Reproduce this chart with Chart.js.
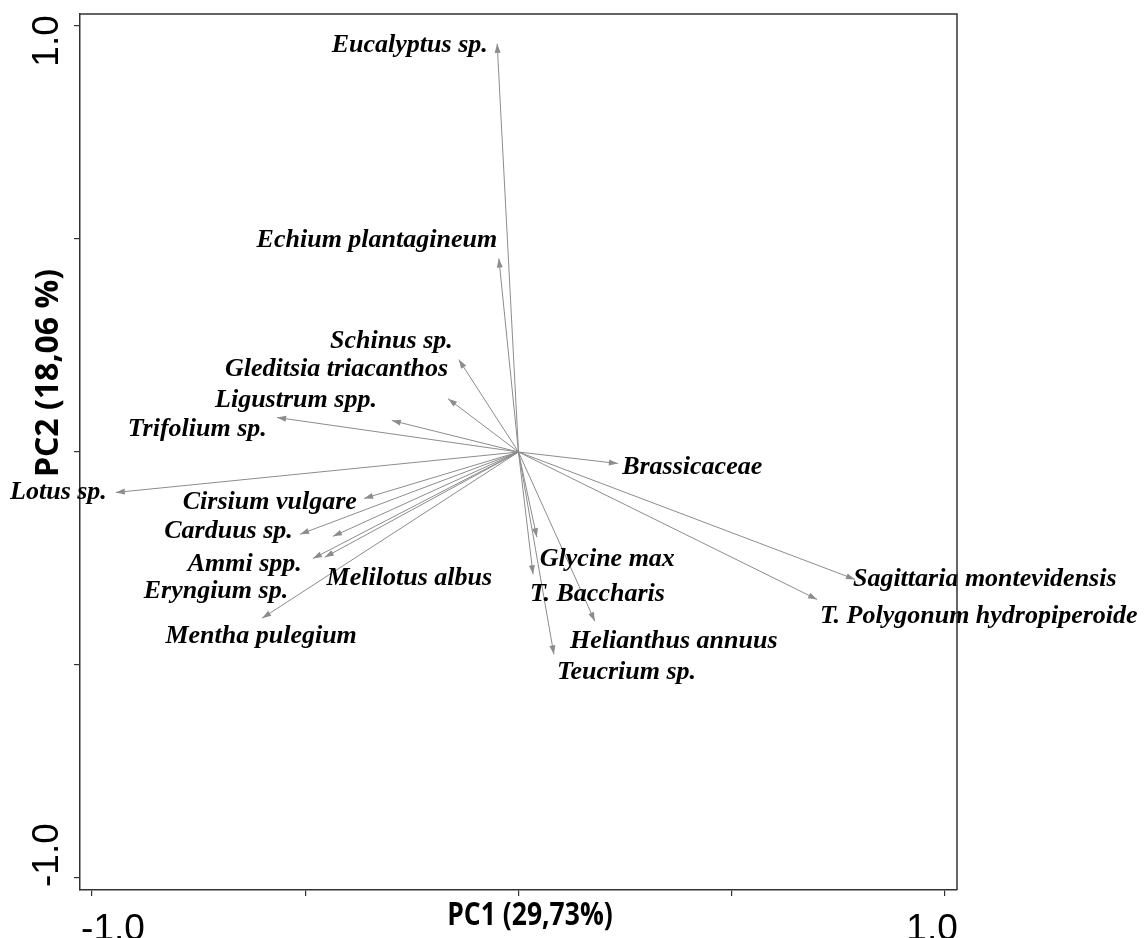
<!DOCTYPE html>
<html>
<head>
<meta charset="utf-8">
<script src="https://cdn.jsdelivr.net/npm/chart.js@4.4.1/dist/chart.umd.min.js"></script>
<style>
html, body { margin: 0; padding: 0; background: #fff; }
#wrap { width: 1146px; height: 938px; }
</style>
</head>
<body>
<div id="wrap"><canvas id="pca"></canvas></div>
<script>
// species loadings on PC1 / PC2
let species = ['Eucalyptus sp.', 'Echium plantagineum', 'Schinus sp.', 'Gleditsia triacanthos',
    'Ligustrum spp.', 'Trifolium sp.', 'Lotus sp.', 'Cirsium vulgare', 'Carduus sp.',
    'Melilotus albus', 'Ammi spp.', 'Eryngium sp.', 'Mentha pulegium', 'Brassicaceae',
    'Glycine max', 'T. Baccharis', 'Helianthus annuus', 'Teucrium sp.',
    'Sagittaria montevidensis', 'T. Polygonum hydropiperoide'];
let pc1 = [-0.050, -0.046, -0.140, -0.165, -0.297, -0.566, -0.944, -0.362, -0.512,
    -0.435, -0.482, -0.454, -0.601, 0.233, 0.043, 0.034, 0.179, 0.083, 0.789, 0.700];
let pc2 = [0.958, 0.454, 0.217, 0.125, 0.074, 0.081, -0.095, -0.109, -0.193,
    -0.198, -0.250, -0.247, -0.390, -0.027, -0.200, -0.287, -0.397, -0.475, -0.299, -0.346];

// where each name sits, in axis units
let labelX = [-0.072, -0.050, -0.154, -0.165, -0.332, -0.590, -0.965, -0.379, -0.529,
    -0.062, -0.508, -0.540, -0.379, 0.243, 0.050, 0.027, 0.121, 0.090, 0.784, 0.707];
let labelY = [0.955, 0.496, 0.261, 0.193, 0.121, 0.053, -0.095, -0.118, -0.186,
    -0.297, -0.264, -0.327, -0.433, -0.036, -0.252, -0.334, -0.444, -0.517, -0.299, -0.386];

let tickValues = [-1, -0.5, 0, 0.5, 1];
let tickLabels = {'-1': '-1.0', '1': '1.0'};
let xTitle = 'PC1 (29,73%)';
let yTitle = 'PC2 (18,06 %)';

const GREY = '#8c8c8c';
const LIM = 1.028;

let datasets = species.map((name, i) => ({
    label: name,
    data: [{x: 0, y: 0}, {x: pc1[i], y: pc2[i]}],
    showLine: true,
    borderColor: GREY,
    borderWidth: 1,
    pointRadius: 0,
    fill: false
}));

const pcaDeco = {
    id: 'pcaDeco',
    afterDatasetsDraw(chart) {
        const ctx = chart.ctx;
        const a = chart.chartArea;
        const xs = chart.scales.x, ys = chart.scales.y;
        ctx.save();

        // arrow heads
        ctx.fillStyle = GREY;
        chart.data.datasets.forEach((ds, i) => {
            const pts = chart.getDatasetMeta(i).data;
            const x0 = pts[0].x, y0 = pts[0].y, x1 = pts[1].x, y1 = pts[1].y;
            const ang = Math.atan2(y1 - y0, x1 - x0);
            const len = 9, w = 3;
            ctx.beginPath();
            ctx.moveTo(x1, y1);
            ctx.lineTo(x1 - len * Math.cos(ang) + w * Math.sin(ang), y1 - len * Math.sin(ang) - w * Math.cos(ang));
            ctx.lineTo(x1 - len * Math.cos(ang) - w * Math.sin(ang), y1 - len * Math.sin(ang) + w * Math.cos(ang));
            ctx.closePath();
            ctx.fill();
        });

        // species names
        ctx.fillStyle = '#000';
        ctx.font = 'italic bold 26px "Liberation Serif", "Times New Roman", serif';
        ctx.textBaseline = 'middle';
        species.forEach((name, i) => {
            ctx.textAlign = pc1[i] < 0 ? 'right' : 'left';
            ctx.fillText(name, xs.getPixelForValue(labelX[i]), ys.getPixelForValue(labelY[i]));
        });

        // top and right frame
        ctx.strokeStyle = '#333';
        ctx.lineWidth = 1.5;
        ctx.beginPath();
        ctx.moveTo(a.left, a.top);
        ctx.lineTo(a.right, a.top);
        ctx.lineTo(a.right, a.bottom);
        ctx.stroke();

        // tick labels
        ctx.font = '37px "Liberation Sans", Arial, sans-serif';
        ctx.textAlign = 'center';
        ctx.textBaseline = 'alphabetic';
        ctx.fillText(tickLabels['-1'], xs.getPixelForValue(-1) + 21, 940);
        ctx.fillText(tickLabels['1'], xs.getPixelForValue(1) - 13, 940);

        ctx.save();
        ctx.translate(58, ys.getPixelForValue(1) + 15);
        ctx.rotate(-Math.PI / 2);
        ctx.fillText(tickLabels['1'], 0, 0);
        ctx.restore();
        ctx.save();
        ctx.translate(58, ys.getPixelForValue(-1) - 23);
        ctx.rotate(-Math.PI / 2);
        ctx.fillText(tickLabels['-1'], 0, 0);
        ctx.restore();

        // axis titles (the original lettering is a bit taller than wide)
        ctx.font = 'bold 26.5px "Open Sans", sans-serif';
        ctx.textBaseline = 'middle';
        ctx.save();
        ctx.translate(530, 916);
        ctx.scale(1, 1.18);
        ctx.fillText(xTitle, 0, 0);
        ctx.restore();
        ctx.font = 'bold 32px "Open Sans", sans-serif';
        ctx.save();
        ctx.translate(49, 373);
        ctx.rotate(-Math.PI / 2);
        ctx.fillText(yTitle, 0, 0);
        ctx.restore();

        ctx.restore();
    }
};

let pcaCtx = document.querySelector('#pca');
var pcaChart = new Chart(pcaCtx, {
    type: 'scatter',
    data: { datasets: datasets },
    options: {
        responsive: true,
        maintainAspectRatio: false,
        animation: false,
        layout: { padding: { top: 14, right: 189, left: 0, bottom: 0 } },
        plugins: { legend: { display: false }, tooltip: { enabled: false } },
        scales: {
            x: {
                type: 'linear', min: -LIM, max: LIM,
                afterBuildTicks: s => { s.ticks = tickValues.map(v => ({value: v})); },
                afterFit: s => { s.height = 48; },
                ticks: { display: false },
                grid: { drawOnChartArea: false, drawTicks: true, tickLength: 6, color: '#333', lineWidth: 1.2 },
                border: { display: true, color: '#333', width: 1.5 }
            },
            y: {
                type: 'linear', min: -LIM, max: LIM,
                afterBuildTicks: s => { s.ticks = tickValues.map(v => ({value: v})); },
                afterFit: s => { s.width = 80; },
                ticks: { display: false },
                grid: { drawOnChartArea: false, drawTicks: true, tickLength: 6, color: '#333', lineWidth: 1.2 },
                border: { display: true, color: '#333', width: 1.5 }
            }
        }
    },
    plugins: [pcaDeco]
});
</script>
</body>
</html>
